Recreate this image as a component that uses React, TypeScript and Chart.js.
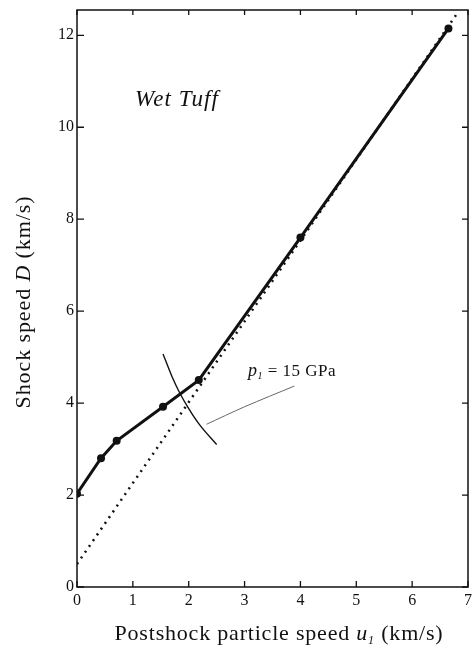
import React, { useEffect, useRef } from "react";
import { Chart, registerables } from "chart.js";

Chart.register(...registerables);

// Hugoniot data for wet tuff: particle speed u1 (km/s) vs shock speed D (km/s)
const measuredU = [0, 0.43, 0.71, 1.54, 2.18, 4.0, 6.65];
const measuredD = [2.03, 2.8, 3.18, 3.92, 4.5, 7.6, 12.15];

// Linear fit extended down to u1 = 0
const fitU = [0, 6.82];
const fitD = [0.5, 12.5];

// 15 GPa isobar crossing the Hugoniot
const isobarU = [1.54, 1.7, 1.84, 2.0, 2.2, 2.5];
const isobarD = [5.07, 4.58, 4.22, 3.88, 3.52, 3.1];

// Leader from the isobar to its label
const leaderU = [2.32, 3.0, 3.89];
const leaderD = [3.54, 3.92, 4.37];

const xTicks = [0, 1, 2, 3, 4, 5, 6, 7];
const yTicks = [0, 2, 4, 6, 8, 10, 12];

const SERIF = "'Liberation Serif', 'DejaVu Serif', serif";

const toPoints = (xs: number[], ys: number[]) => xs.map((x, i) => ({ x, y: ys[i] }));

type Run = { t: string; font: string; dy?: number };

// Draws a run of text pieces with individual styles, left to right
function drawRuns(
  ctx: CanvasRenderingContext2D,
  runs: Run[],
  x: number,
  y: number,
  align: "left" | "center",
  spacing = 0
) {
  (ctx as any).letterSpacing = `${spacing}px`;
  let total = 0;
  for (const r of runs) {
    ctx.font = r.font;
    total += ctx.measureText(r.t).width;
  }
  let cx = align === "center" ? x - total / 2 : x;
  for (const r of runs) {
    ctx.font = r.font;
    ctx.fillText(r.t, cx, y + (r.dy || 0));
    cx += ctx.measureText(r.t).width;
  }
  (ctx as any).letterSpacing = "0px";
}

const framePlugin = {
  id: "frameAndText",
  afterDraw(chart: any) {
    const { ctx, chartArea } = chart;
    const { left, right, top, bottom } = chartArea;
    const xs = chart.scales.x;
    const ys = chart.scales.y;
    ctx.save();
    ctx.strokeStyle = "#111";
    ctx.lineWidth = 1.5;
    ctx.strokeRect(left, top, right - left, bottom - top);

    // inward tick marks on all four sides
    ctx.lineWidth = 1.3;
    ctx.beginPath();
    for (const t of xs.ticks) {
      const px = xs.getPixelForValue(t.value);
      ctx.moveTo(px, bottom);
      ctx.lineTo(px, bottom - 6);
      ctx.moveTo(px, top);
      ctx.lineTo(px, top + 5);
    }
    for (const t of ys.ticks) {
      const py = ys.getPixelForValue(t.value);
      ctx.moveTo(left, py);
      ctx.lineTo(left + 7, py);
      ctx.moveTo(right, py);
      ctx.lineTo(right - 6, py);
    }
    ctx.stroke();

    ctx.fillStyle = "#111";
    ctx.textBaseline = "alphabetic";

    // y-axis title, rotated
    ctx.save();
    ctx.translate(30, 302);
    ctx.rotate(-Math.PI / 2);
    drawRuns(
      ctx,
      [
        { t: "Shock speed ", font: `22px ${SERIF}` },
        { t: "D", font: `italic 22px ${SERIF}` },
        { t: " (km/s)", font: `22px ${SERIF}` },
      ],
      0,
      0,
      "center",
      0.9
    );
    ctx.restore();

    // x-axis title
    drawRuns(
      ctx,
      [
        { t: "Postshock particle speed ", font: `22px ${SERIF}` },
        { t: "u", font: `italic 22px ${SERIF}` },
        { t: "1", font: `italic 12px ${SERIF}`, dy: 4 },
        { t: " (km/s)", font: `22px ${SERIF}` },
      ],
      279,
      640,
      "center",
      0.8
    );

    // material name
    drawRuns(ctx, [{ t: "Wet Tuff", font: `italic 23px ${SERIF}` }], 135, 106, "left", 1.1);

    // isobar label
    drawRuns(
      ctx,
      [
        { t: "p", font: `italic 18px ${SERIF}` },
        { t: "1", font: `italic 10px ${SERIF}`, dy: 3 },
        { t: " = 15 GPa", font: `17px ${SERIF}` },
      ],
      248,
      376,
      "left",
      0.5
    );
    ctx.restore();
  },
};

export default function App() {
  const ref = useRef<HTMLCanvasElement | null>(null);

  useEffect(() => {
    if (!ref.current) return;
    const chart = new Chart(ref.current, {
      type: "line",
      data: {
        datasets: [
          {
            data: toPoints(measuredU, measuredD),
            borderColor: "#111",
            backgroundColor: "#111",
            borderWidth: 3,
            pointRadius: 4,
            pointBackgroundColor: "#111",
            pointBorderWidth: 0,
          },
          {
            data: toPoints(fitU, fitD),
            borderColor: "#111",
            borderWidth: 2.5,
            borderDash: [2, 5],
            pointRadius: 0,
          },
          {
            data: toPoints(isobarU, isobarD),
            borderColor: "#111",
            borderWidth: 1.4,
            pointRadius: 0,
            cubicInterpolationMode: "monotone",
          },
          {
            data: toPoints(leaderU, leaderD),
            borderColor: "#666",
            borderWidth: 1,
            pointRadius: 0,
            tension: 0.3,
          },
        ],
      },
      options: {
        animation: false,
        responsive: false,
        maintainAspectRatio: false,
        layout: { padding: { top: 10, right: 4, left: 0, bottom: 0 } },
        plugins: { legend: { display: false }, tooltip: { enabled: false } },
        scales: {
          x: {
            type: "linear",
            min: 0,
            max: 7,
            afterBuildTicks: (axis: any) => {
              axis.ticks = xTicks.map((v) => ({ value: v }));
            },
            afterFit: (axis: any) => {
              axis.height = 64;
              axis.paddingLeft = 0;
              axis.paddingRight = 0;
            },
            grid: { display: false, drawTicks: false },
            border: { display: false },
            ticks: {
              padding: 4,
              color: "#111",
              font: { family: SERIF, size: 16 },
              maxRotation: 0,
            },
          },
          y: {
            type: "linear",
            min: 0,
            max: 12.55,
            afterBuildTicks: (axis: any) => {
              axis.ticks = yTicks.map((v) => ({ value: v }));
            },
            afterFit: (axis: any) => {
              axis.width = 77;
              axis.paddingTop = 0;
              axis.paddingBottom = 0;
            },
            grid: { display: false, drawTicks: false },
            border: { display: false },
            ticks: {
              padding: 3,
              color: "#111",
              font: { family: SERIF, size: 16 },
            },
          },
        },
      },
      plugins: [framePlugin],
    } as any);
    return () => chart.destroy();
  }, []);

  return (
    <div style={{ position: "fixed", left: 0, top: 0, width: 472, height: 651, background: "#fff" }}>
      <canvas ref={ref} width={472} height={651} style={{ width: 472, height: 651 }} />
    </div>
  );
}
